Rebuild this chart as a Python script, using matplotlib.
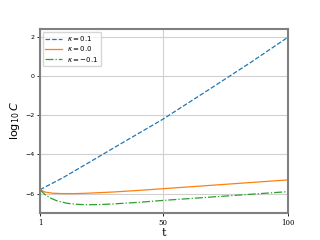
import matplotlib
matplotlib.use('Agg')
import matplotlib.pyplot as plt

#%%
t_pos = [1, 10, 20, 33, 50, 70, 85, 100]
c_pos = [-5.8, -5.2, -4.45, -3.47, -2.2, -0.55, 0.7, 2.0]

t_zero = [1, 3, 6, 10, 15, 20, 30, 40, 50, 60, 70, 80, 90, 100]
c_zero = [-5.8, -5.92, -5.98, -6.0, -6.0, -5.98, -5.92, -5.84, -5.75,
          -5.66, -5.57, -5.48, -5.39, -5.3]

t_neg = [1, 3, 5, 8, 12, 16, 20, 25, 30, 40, 50, 60, 70, 80, 90, 100]
c_neg = [-5.8, -6.05, -6.22, -6.38, -6.5, -6.55, -6.57, -6.56, -6.53,
         -6.45, -6.35, -6.26, -6.17, -6.08, -5.99, -5.9]

labels = [r'$\kappa = 0.1$', r'$\kappa = 0.0$', r'$\kappa = -0.1$']

#%%
plt.rcParams['mathtext.fontset'] = 'dejavusans'

fig = plt.figure(figsize=(3.2, 2.4), dpi=100)
ax = fig.add_axes([0.125, 0.112, 0.775, 0.768])

ax.plot(t_pos, c_pos, '--', color='tab:blue', lw=0.9, label=labels[0])
ax.plot(t_zero, c_zero, '-', color='tab:orange', lw=0.9, label=labels[1])
ax.plot(t_neg, c_neg, '-.', color='tab:green', lw=0.9, label=labels[2])

ax.set_xlim(1, 100)
ax.set_xticks([1, 50, 100])
ax.set_yticks([2, 0, -2, -4, -6])
ax.set_xticklabels(['1', '50', '100'], family='DejaVu Serif', fontsize=5)
ax.tick_params(axis='y', labelsize=4.5)
ax.tick_params(length=2, width=0.6, colors='black', pad=2)
ax.grid(True, color='#d0d0d0', lw=0.8)
for s in ax.spines.values():
    s.set_color('#808080')
    s.set_linewidth(1.5)

ax.set_xlabel('t', fontsize=8, family='DejaVu Serif', labelpad=1)
ax.set_ylabel(r'$\log_{10}C$', fontsize=8, labelpad=2)
ax.legend(loc='upper left', fontsize=5, handlelength=2.4, framealpha=0.8,
          borderpad=0.35, labelspacing=0.2, borderaxespad=0.4)

fig.savefig('out.png', dpi=100)
